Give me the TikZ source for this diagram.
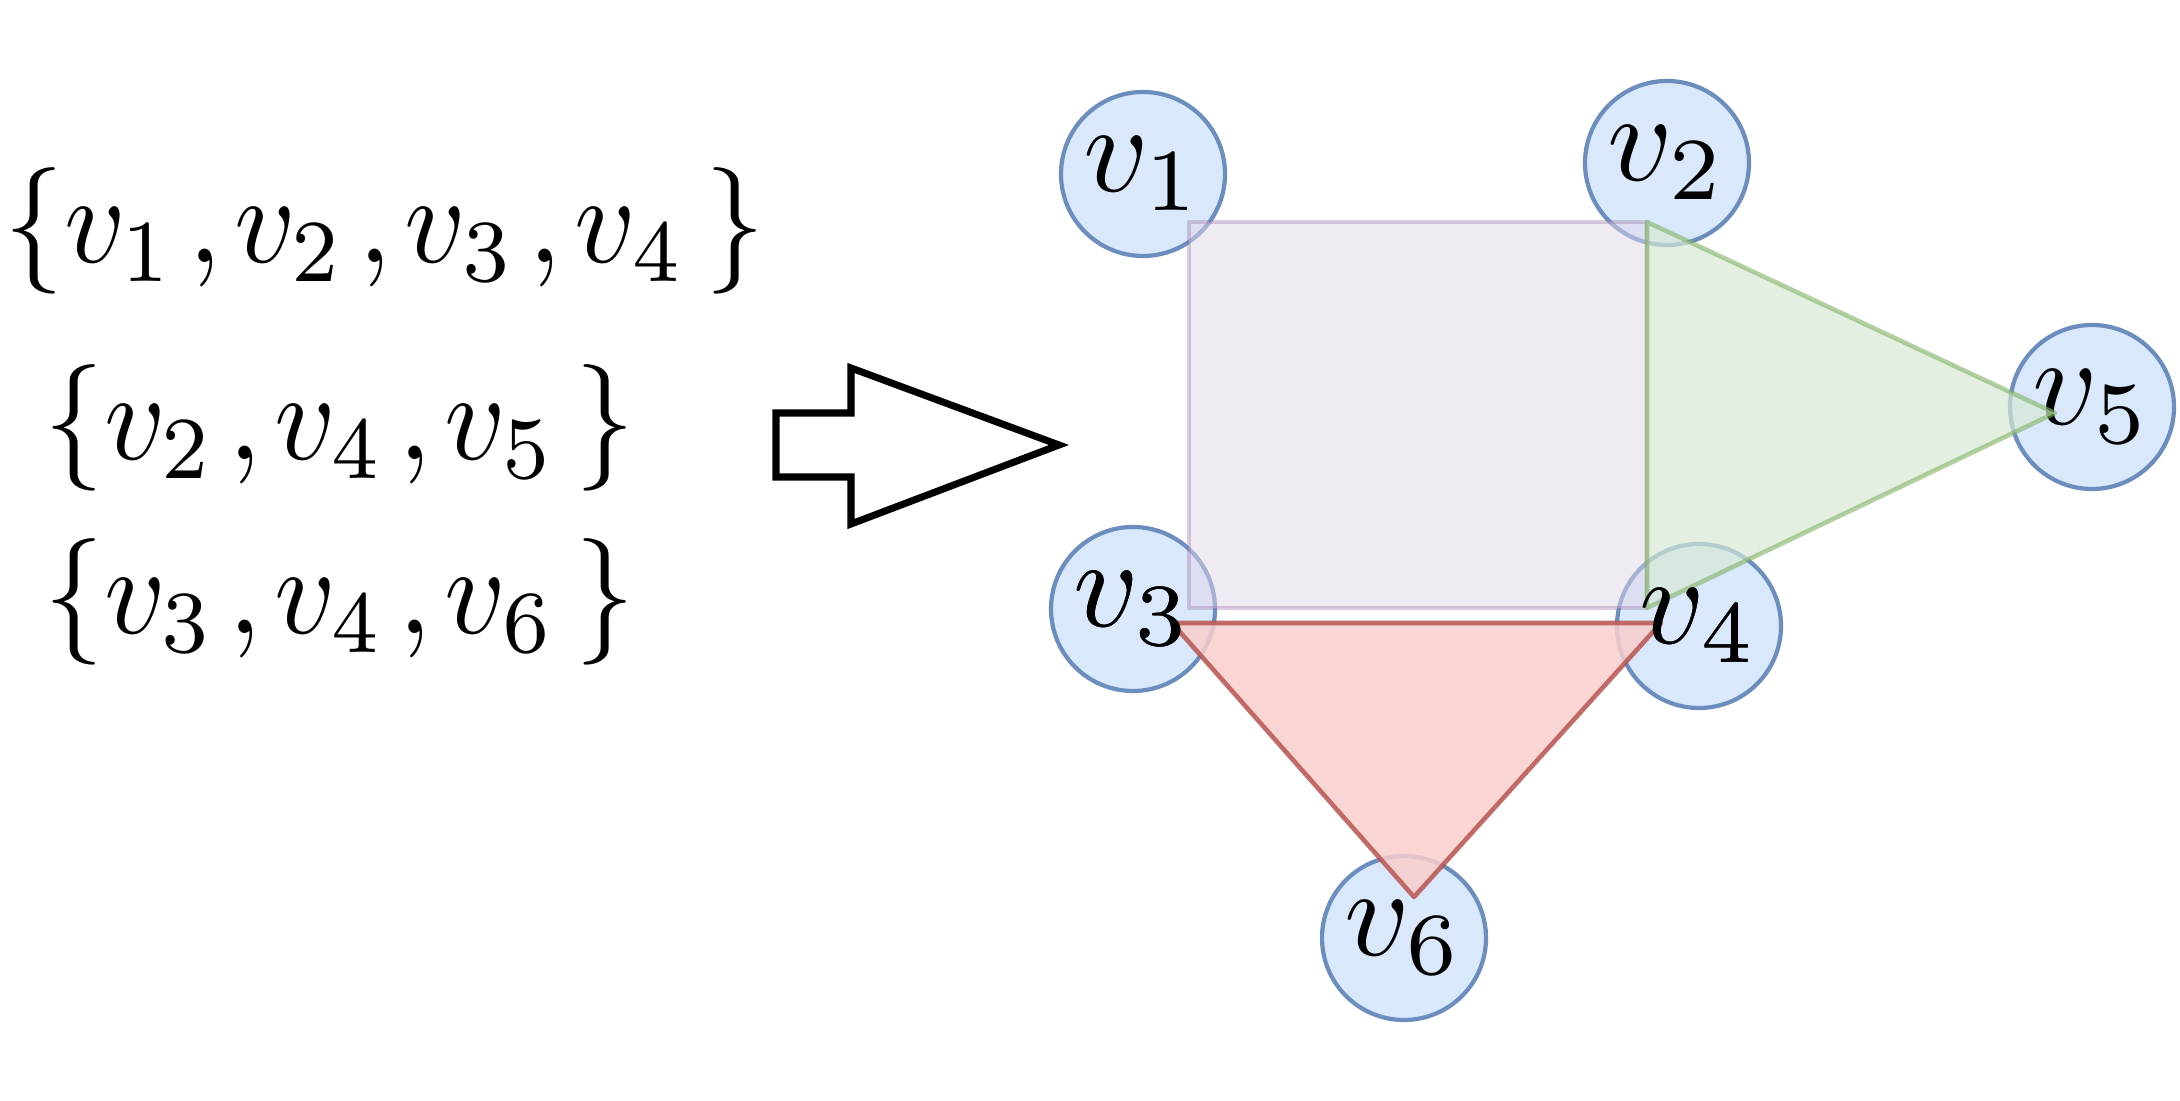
\documentclass[tikz,border=0pt]{standalone}
\usepackage{graphicx}
\definecolor{nodefill}{HTML}{DAE8FC}
\definecolor{nodedraw}{HTML}{6C8EBF}
\definecolor{sqfill}{HTML}{E1D5E7}
\definecolor{sqdraw}{HTML}{9673A6}
\definecolor{grfill}{HTML}{D5E8D4}
\definecolor{grdraw}{HTML}{82B366}
\definecolor{rdfill}{HTML}{F8CECC}
\definecolor{rddraw}{HTML}{B85450}
\newcommand{\hugemath}[1]{\scalebox{3.6}{$#1$}}
\newcommand{\setmath}[1]{\scalebox{3.38}[3.6]{$#1$}}
\newcommand{\cm}{\mkern2mu{,}\mkern2mu}
\tikzset{
  vert/.style={circle, draw=nodedraw, fill=nodefill, line width=1.2pt, minimum size=1.64cm, inner sep=0pt},
  settext/.style={anchor=west, inner sep=0pt},
  edgeset/.style={line width=1.3pt, line join=round}
}
\begin{document}
\begin{tikzpicture}
\useasboundingbox (0,0) rectangle (21.8,11);
% vertices
\node[vert] (v1) at (11.43,9.26) {\hugemath{v_1}};
\node[vert] (v2) at (16.67,9.37) {\hugemath{v_2}};
\node[vert] (v5) at (20.92,6.93) {\hugemath{v_5}};
\node[vert] (v3) at (11.33,4.91) {\hugemath{v_3}};
\node[vert] (v4) at (16.99,4.74) {\hugemath{v_4}};
\node[vert] (v6) at (14.04,1.62) {\hugemath{v_6}};
% hyperedge corners
\coordinate (s1) at (11.89,8.78);
\coordinate (s2) at (16.47,8.78);
\coordinate (s3) at (16.47,4.92);
\coordinate (s4) at (11.89,4.92);
\coordinate (g1) at (16.47,8.78);
\coordinate (g2) at (20.55,6.87);
\coordinate (g3) at (16.47,4.92);
\coordinate (r1) at (11.72,4.77);
\coordinate (r2) at (16.61,4.77);
\coordinate (r3) at (14.14,2.03);
% hyperedges
\draw[edgeset, draw=sqdraw, draw opacity=0.35, fill=sqfill, fill opacity=0.5] (s1) -- (s2) -- (s3) -- (s4) -- cycle;
\draw[edgeset, draw=grdraw, draw opacity=0.6, fill=grfill, fill opacity=0.7] (g1) -- (g2) -- (g3) -- cycle;
\draw[edgeset, draw=rddraw, draw opacity=0.85, fill=rdfill, fill opacity=0.85] (r1) -- (r2) -- (r3) -- cycle;
% labels again on top
\node[inner sep=0pt] at (v3) {\hugemath{v_3}};
\node[inner sep=0pt] at (v4) {\hugemath{v_4}};
% sets
\node[settext] (t1) at (0.04,8.69) {\setmath{\{v_1\cm v_2\cm v_3\cm v_4\,\}}};
\node[settext] (t2) at (0.44,6.72) {\setmath{\{v_2\cm v_4\cm v_5\,\}}};
\node[settext] (t3) at (0.44,4.98) {\setmath{\{v_3\cm v_4\cm v_6\,\}}};
% block arrow
\draw[line width=2pt, line join=miter, fill=white] (7.76,6.87) -- (8.51,6.87) -- (8.51,7.32) -- (10.59,6.55) -- (8.51,5.76) -- (8.51,6.23) -- (7.76,6.23) -- cycle;
\end{tikzpicture}
\end{document}
